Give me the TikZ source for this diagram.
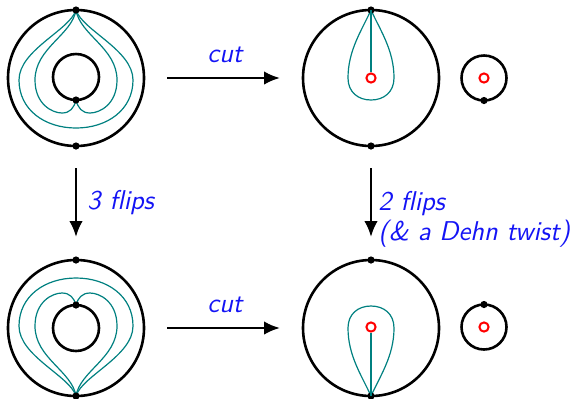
\documentclass[tikz,border=0pt]{standalone}
\usetikzlibrary{arrows.meta}
\definecolor{tealc}{RGB}{0,128,128}
\definecolor{labblue}{RGB}{20,20,245}
\begin{document}
\begin{tikzpicture}[x=0.5pt,y=-0.5pt,
  bd/.style={line width=1.3pt},
  arcs/.style={tealc,line width=0.6pt},
  hole/.style={circle,draw=red,line width=1pt,inner sep=0pt,minimum size=4.6pt},
  pt/.style={circle,fill=black,inner sep=0pt,minimum size=3.6pt},
  bigarrow/.style={line width=1.3pt,-{Latex[length=8pt,width=6.8pt]}},
  lab/.style={text=labblue,inner sep=0pt,font=\fontsize{13.6}{15}\selectfont\sffamily\slshape}]
\useasboundingbox (0,0) rectangle (571,398);

% ---------- top row ----------
% top-left annulus
\draw[bd] (76,78) circle[radius=68];
\draw[bd] (76,77) circle[radius=23];
\draw[arcs] (76,10) .. controls (70,30) and (19,50) .. (19,80)
  .. controls (19,110) and (45,128) .. (76,128)
  .. controls (107,128) and (133,110) .. (133,80)
  .. controls (133,50) and (82,30) .. (76,10);
\draw[arcs] (76,10) .. controls (72,35) and (35,48) .. (35,80)
  .. controls (35,104) and (52,113) .. (62,113)
  .. controls (70,113) and (74,108) .. (76,100)
  .. controls (78,108) and (82,113) .. (90,113)
  .. controls (100,113) and (117,104) .. (117,80)
  .. controls (117,48) and (80,35) .. (76,10);
\node[pt] (tlTop) at (76,10) {};
\node[pt] (tlBot) at (76,146) {};
\node[pt] (tlIn) at (76,100) {};

% top-right disk
\draw[bd] (371,78) circle[radius=68];
\draw[arcs] (371,10) .. controls (362,30) and (348,50) .. (348,78)
  .. controls (348,92) and (358,100) .. (371,100)
  .. controls (384,100) and (394,92) .. (394,78)
  .. controls (394,50) and (380,30) .. (371,10);
\node[pt] (trTop) at (371,10) {};
\node[pt] (trBot) at (371,146) {};
\node[hole] (trHole) at (371,78) {};
\draw[arcs] (trTop.center) -- (trHole);

% top small disk
\draw[bd] (484,78) circle[radius=22.5];
\node[hole] (tsHole) at (484,78) {};
\node[pt] (tsBot) at (484,100.5) {};

% ---------- bottom row (mirror) ----------
\begin{scope}[shift={(0,406)},yscale=-1]
\draw[bd] (76,78) circle[radius=68];
\draw[bd] (76,78) circle[radius=23];
\draw[arcs] (76,10) .. controls (70,30) and (19,50) .. (19,80)
  .. controls (19,110) and (45,128) .. (76,128)
  .. controls (107,128) and (133,110) .. (133,80)
  .. controls (133,50) and (82,30) .. (76,10);
\draw[arcs] (76,10) .. controls (72,35) and (35,48) .. (35,80)
  .. controls (35,104) and (52,113) .. (62,113)
  .. controls (70,113) and (74,108) .. (76,101)
  .. controls (78,108) and (82,113) .. (90,113)
  .. controls (100,113) and (117,104) .. (117,80)
  .. controls (117,48) and (80,35) .. (76,10);
\node[pt] (blBot) at (76,10) {};
\node[pt] (blTop) at (76,146) {};
\node[pt] (blIn) at (76,101) {};

\draw[bd] (371,78) circle[radius=68];
\draw[arcs] (371,10) .. controls (362,30) and (348,50) .. (348,78)
  .. controls (348,92) and (358,100) .. (371,100)
  .. controls (384,100) and (394,92) .. (394,78)
  .. controls (394,50) and (380,30) .. (371,10);
\node[pt] (brBot) at (371,10) {};
\node[pt] (brTop) at (371,146) {};
\node[hole] (brHole) at (371,79) {};
\draw[arcs] (brBot.center) -- (brHole);

\draw[bd] (484,79) circle[radius=22.5];
\node[hole] (bsHole) at (484,79) {};
\node[pt] (bsTop) at (484,101.5) {};
\end{scope}

% ---------- arrows and labels ----------
\coordinate (h1s) at (167,78);
\coordinate (h1e) at (280,78);
\coordinate (h2s) at (167,328);
\coordinate (h2e) at (280,328);
\coordinate (v1s) at (76,168);
\coordinate (v1e) at (76,237);
\coordinate (v2s) at (371,168);
\coordinate (v2e) at (371,237);
\draw[bigarrow] (h1s) -- (h1e);
\draw[bigarrow] (h2s) -- (h2e);
\draw[bigarrow] (v1s) -- (v1e);
\draw[bigarrow] (v2s) -- (v2e);

\node[lab,anchor=base] (cutA) at (225,62) {cut};
\node[lab,anchor=base] (cutB) at (225,312) {cut};
\node[lab,anchor=base west] (flipsA) at (87,209) {3 flips};
\node[lab,anchor=west,align=left] (flipsB) at (378,219) {2 flips\\(\& a Dehn twist)};
\end{tikzpicture}
\end{document}
